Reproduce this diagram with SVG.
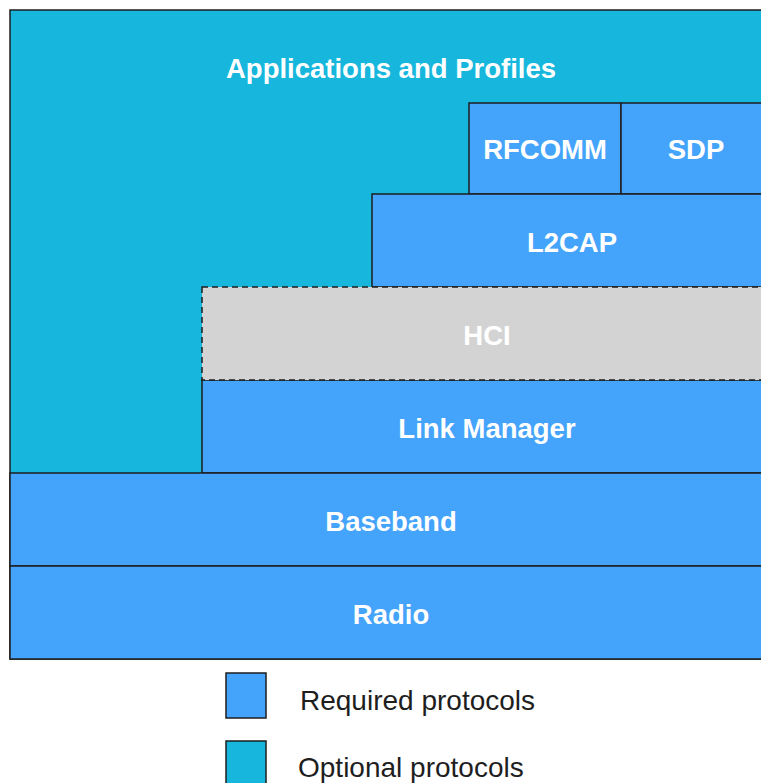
<svg xmlns="http://www.w3.org/2000/svg" width="761" height="783" viewBox="0 0 761 783">
  <style>
    .req { fill: #44A3FB; stroke: #1e1e1e; stroke-width: 1.5; }
    .opt { fill: #17B7DD; stroke: #1e1e1e; stroke-width: 1.5; }
    .hci { fill: #D3D3D3; stroke: #1e1e1e; stroke-width: 1.5; stroke-dasharray: 6 4; }
    .lbl { font-family: "Liberation Sans", Arial, sans-serif; font-size: 27.5px; font-weight: bold; fill: #ffffff; text-anchor: middle; }
    .leg { font-family: "Liberation Sans", Arial, sans-serif; font-size: 28px; fill: #1e1e1e; }
  </style>
  <rect width="761" height="783" fill="#ffffff"/>

  <g id="applications">
    <rect class="opt" x="10" y="10" width="762" height="649"/>
    <text class="lbl" x="391" y="78">Applications and Profiles</text>
  </g>
  <g id="rfcomm">
    <rect class="req" x="469" y="103" width="152" height="91"/>
    <text class="lbl" x="545" y="159">RFCOMM</text>
  </g>
  <g id="sdp">
    <rect class="req" x="621" y="103" width="151" height="91"/>
    <text class="lbl" x="696" y="159">SDP</text>
  </g>
  <g id="l2cap">
    <rect class="req" x="372" y="194" width="400" height="93"/>
    <text class="lbl" x="572" y="252">L2CAP</text>
  </g>
  <g id="link-manager">
    <rect class="req" x="202" y="380" width="570" height="93"/>
    <text class="lbl" x="487" y="438">Link Manager</text>
  </g>
  <g id="hci">
    <rect class="hci" x="202" y="287" width="570" height="93"/>
    <text class="lbl" x="487" y="345">HCI</text>
  </g>
  <g id="baseband">
    <rect class="req" x="10" y="473" width="762" height="93"/>
    <text class="lbl" x="391" y="531">Baseband</text>
  </g>
  <g id="radio">
    <rect class="req" x="10" y="566" width="762" height="93"/>
    <text class="lbl" x="391" y="624">Radio</text>
  </g>

  <g id="connectors"></g>

  <g id="legend">
    <rect class="req" x="226" y="673" width="40" height="45"/>
    <text class="leg" x="300" y="710">Required protocols</text>
    <rect class="opt" x="226" y="741" width="40" height="50"/>
    <text class="leg" x="298" y="777">Optional protocols</text>
  </g>
</svg>
